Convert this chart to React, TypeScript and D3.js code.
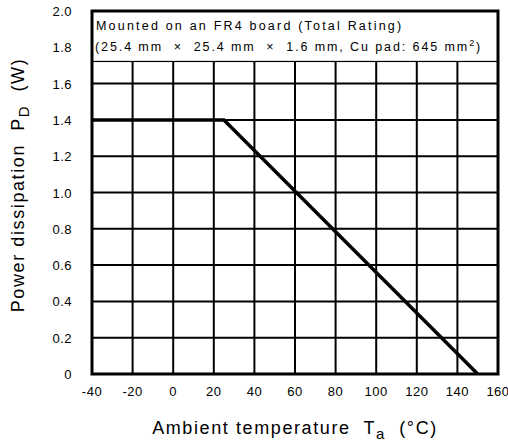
import { useEffect, useRef } from 'react';
import * as d3 from 'd3';

const xTicks = [-40, -20, 0, 20, 40, 60, 80, 100, 120, 140, 160];
const yTicks = [0, 0.2, 0.4, 0.6, 0.8, 1.0, 1.2, 1.4, 1.6, 1.8, 2.0];
// derating curve: Ta (°C), PD (W)
const curveTa = [-40, 25, 150];
const curvePd = [1.4, 1.4, 0];

const W = 508;
const H = 441;
const FONT = 'Liberation Sans, Arial, sans-serif';

export default function App() {
  const svgRef = useRef<SVGSVGElement>(null);

  useEffect(() => {
    if (!svgRef.current) return;
    const svg = d3.select(svgRef.current);
    svg.selectAll('*').remove();

    const left = 92;
    const right = 498;
    const top = 11;
    const bottom = 374;

    const x = d3.scaleLinear().domain([-40, 160]).range([left, right]);
    const y = d3.scaleLinear().domain([0, 2.0]).range([bottom, top]);

    const g = svg.append('g');

    // grid
    g.selectAll('.vgrid')
      .data(xTicks.slice(1, -1))
      .enter()
      .append('line')
      .attr('x1', (d) => x(d))
      .attr('x2', (d) => x(d))
      .attr('y1', y(0))
      .attr('y2', y(2))
      .attr('stroke', '#000')
      .attr('stroke-width', 2);

    g.selectAll('.hgrid')
      .data(yTicks.slice(1, -1))
      .enter()
      .append('line')
      .attr('x1', x(-40))
      .attr('x2', x(160))
      .attr('y1', (d) => y(d))
      .attr('y2', (d) => y(d))
      .attr('stroke', '#000')
      .attr('stroke-width', 2);

    // legend box (covers grid)
    const boxBottom = y(1.722);
    g.append('rect')
      .attr('x', x(-40))
      .attr('y', y(2))
      .attr('width', x(160) - x(-40))
      .attr('height', boxBottom - y(2))
      .attr('fill', '#fff')
      .attr('stroke', '#000')
      .attr('stroke-width', 1.2);

    g.append('text')
      .attr('x', x(-40) + 4)
      .attr('y', y(2) + 19)
      .attr('font-family', FONT)
      .attr('font-size', 12.5)
      .attr('letter-spacing', 2.2)
      .attr('fill', '#000')
      .text('Mounted on an FR4 board (Total Rating)');

    const t2 = g.append('text')
      .attr('x', x(-40) + 3)
      .attr('y', y(2) + 40)
      .attr('font-family', FONT)
      .attr('font-size', 12.5)
      .attr('letter-spacing', 1.9)
      .attr('fill', '#000')
      .style('white-space', 'pre');
    t2.append('tspan').text('(25.4 mm  \u00d7  25.4 mm  \u00d7  1.6 mm, Cu pad: 645 mm');
    t2.append('tspan').attr('dy', -5).attr('font-size', 9).text('2');
    t2.append('tspan').attr('dy', 5).text(')');

    // curve
    const pts: [number, number][] = curveTa.map((t, i) => [t, curvePd[i]]);
    g.append('path')
      .datum(pts)
      .attr('fill', 'none')
      .attr('stroke', '#000')
      .attr('stroke-width', 3.5)
      .attr('d', d3.line<[number, number]>().x((d) => x(d[0])).y((d) => y(d[1])));

    // frame
    g.append('rect')
      .attr('x', left)
      .attr('y', top)
      .attr('width', right - left)
      .attr('height', bottom - top)
      .attr('fill', 'none')
      .attr('stroke', '#000')
      .attr('stroke-width', 3);

    // tick labels
    g.selectAll('.xt')
      .data(xTicks)
      .enter()
      .append('text')
      .attr('x', (d) => x(d))
      .attr('y', bottom + 22)
      .attr('text-anchor', 'middle')
      .attr('font-family', FONT)
      .attr('font-size', 13)
      .attr('letter-spacing', 0.5)
      .text((d) => String(d));

    g.selectAll('.yt')
      .data(yTicks)
      .enter()
      .append('text')
      .attr('x', left - 20)
      .attr('y', (d) => y(d) + 5)
      .attr('text-anchor', 'end')
      .attr('font-family', FONT)
      .attr('font-size', 13)
      .attr('letter-spacing', 0.5)
      .text((d) => (d === 0 ? '0' : d.toFixed(1)));

    // axis titles
    const xt = g.append('text')
      .attr('x', 295)
      .attr('y', 434)
      .attr('text-anchor', 'middle')
      .attr('font-family', FONT)
      .attr('font-size', 18)
      .attr('letter-spacing', 1.6)
      .style('white-space', 'pre');
    xt.append('tspan').text('Ambient temperature  T');
    xt.append('tspan').attr('dy', 5).attr('font-size', 15).text('a');
    xt.append('tspan').attr('dy', -5).text('  (\u00b0C)');

    const yt = g.append('text')
      .attr('transform', `translate(24,185) rotate(-90)`)
      .attr('text-anchor', 'middle')
      .attr('font-family', FONT)
      .attr('font-size', 18)
      .attr('letter-spacing', 1.6)
      .style('white-space', 'pre');
    yt.append('tspan').text('Power dissipation  P');
    yt.append('tspan').attr('dy', 5).attr('font-size', 15).text('D');
    yt.append('tspan').attr('dy', -5).text('  (W)');
  }, []);

  return (
    <svg
      ref={svgRef}
      width={W}
      height={H}
      style={{ position: 'absolute', left: 0, top: 0, background: '#fff' }}
    />
  );
}
